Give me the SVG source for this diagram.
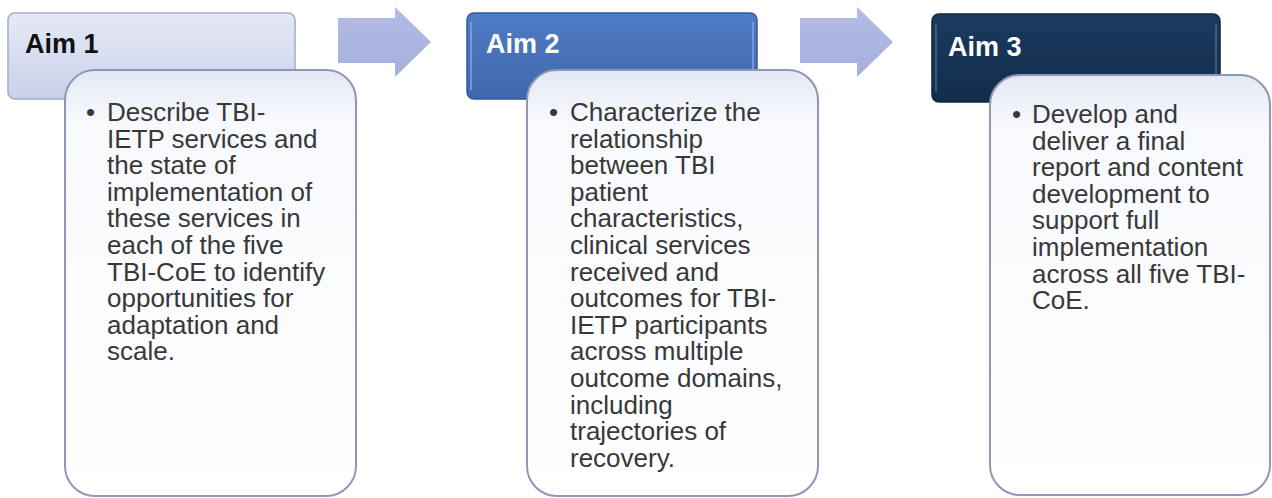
<svg xmlns="http://www.w3.org/2000/svg" width="1272" height="498" viewBox="0 0 1272 498">
<defs>
<linearGradient id="g1" x1="0" y1="0" x2="0" y2="1">
<stop offset="0" stop-color="#e6eaf6"/><stop offset="1" stop-color="#c9d0ea"/>
</linearGradient>
<linearGradient id="g2" x1="0" y1="0" x2="0" y2="1">
<stop offset="0" stop-color="#4f7cc4"/><stop offset="1" stop-color="#3f67ae"/>
</linearGradient>
<linearGradient id="g3" x1="0" y1="0" x2="0" y2="1">
<stop offset="0" stop-color="#1b3a5e"/><stop offset="1" stop-color="#132d4b"/>
</linearGradient>
<linearGradient id="gt" x1="0" y1="0" x2="0" y2="1">
<stop offset="0" stop-color="#e3e8f4"/><stop offset="0.12" stop-color="#f8f9fd"/><stop offset="1" stop-color="#ffffff"/>
</linearGradient>
<linearGradient id="ga" x1="0" y1="0" x2="0" y2="1">
<stop offset="0" stop-color="#b3bce6"/><stop offset="1" stop-color="#a5afdd"/>
</linearGradient>
</defs>
<style>
.hdr{stroke-width:1.5}
.h1{fill:url(#g1);stroke:#a3abc8}
.h2{fill:url(#g2);stroke:#35599a}
.h3{fill:url(#g3);stroke:#0f2540}
.hl{fill:none;stroke-width:2;opacity:0.6}
.tb{fill:url(#gt);stroke:#8e98b6;stroke-width:2}
.ht{font-family:"Liberation Sans",Arial,sans-serif;font-weight:bold;font-size:27px}
.bt{font-family:"Liberation Sans",Arial,sans-serif;font-size:26px;fill:#383838}
.arrow{fill:url(#ga)}
</style>
<g id="connectors">
<path class="arrow" d="M338,18 H395 V7 L431,42 L395,77 V63 H338 Z"/>
<path class="arrow" d="M800,18 H857 V7 L893,42 L857,77 V63 H800 Z"/>
</g>
<g id="aim1">
<rect class="hdr h1" x="8" y="13" width="287" height="86" rx="7"/>
<text class="ht" x="25" y="53" fill="#111">Aim 1</text>
<rect class="tb" x="65" y="70" width="291" height="426" rx="30"/>
<text class="bt">
<tspan x="86" y="121">•</tspan>
<tspan x="107" y="121">Describe TBI-</tspan>
<tspan x="107" y="147.6">IETP services and</tspan>
<tspan x="107" y="174.2">the state of</tspan>
<tspan x="107" y="200.8">implementation of</tspan>
<tspan x="107" y="227.4">these services in</tspan>
<tspan x="107" y="254">each of the five</tspan>
<tspan x="107" y="280.6">TBI-CoE to identify</tspan>
<tspan x="107" y="307.2">opportunities for</tspan>
<tspan x="107" y="333.8">adaptation and</tspan>
<tspan x="107" y="360.4">scale.</tspan>
</text>
</g>
<g id="aim2">
<rect class="hdr h2" x="467" y="13" width="290" height="86" rx="7"/>
<path class="hl" stroke="#8fb0e6" d="M471,22 V90 M753,22 V90"/>
<text class="ht" x="486" y="53" fill="#ffffff">Aim 2</text>
<rect class="tb" x="527" y="70" width="291" height="426" rx="30"/>
<text class="bt">
<tspan x="549" y="121">•</tspan>
<tspan x="570" y="121">Characterize the</tspan>
<tspan x="570" y="147.6">relationship</tspan>
<tspan x="570" y="174.2">between TBI</tspan>
<tspan x="570" y="200.8">patient</tspan>
<tspan x="570" y="227.4">characteristics,</tspan>
<tspan x="570" y="254">clinical services</tspan>
<tspan x="570" y="280.6">received and</tspan>
<tspan x="570" y="307.2">outcomes for TBI-</tspan>
<tspan x="570" y="333.8">IETP participants</tspan>
<tspan x="570" y="360.4">across multiple</tspan>
<tspan x="570" y="387">outcome domains,</tspan>
<tspan x="570" y="413.6">including</tspan>
<tspan x="570" y="440.2">trajectories of</tspan>
<tspan x="570" y="466.8">recovery.</tspan>
</text>
</g>
<g id="aim3">
<rect class="hdr h3" x="932" y="14" width="288" height="88" rx="7"/>
<path class="hl" stroke="#5a7394" d="M936,24 V92 M1216,24 V92"/>
<text class="ht" x="948" y="56" fill="#ffffff">Aim 3</text>
<rect class="tb" x="990" y="75" width="280" height="420" rx="30"/>
<text class="bt">
<tspan x="1012" y="123">•</tspan>
<tspan x="1032" y="123">Develop and</tspan>
<tspan x="1032" y="149.6">deliver a final</tspan>
<tspan x="1032" y="176.2">report and content</tspan>
<tspan x="1032" y="202.8">development to</tspan>
<tspan x="1032" y="229.4">support full</tspan>
<tspan x="1032" y="256">implementation</tspan>
<tspan x="1032" y="282.6">across all five TBI-</tspan>
<tspan x="1032" y="309.2">CoE.</tspan>
</text>
</g>
</svg>
